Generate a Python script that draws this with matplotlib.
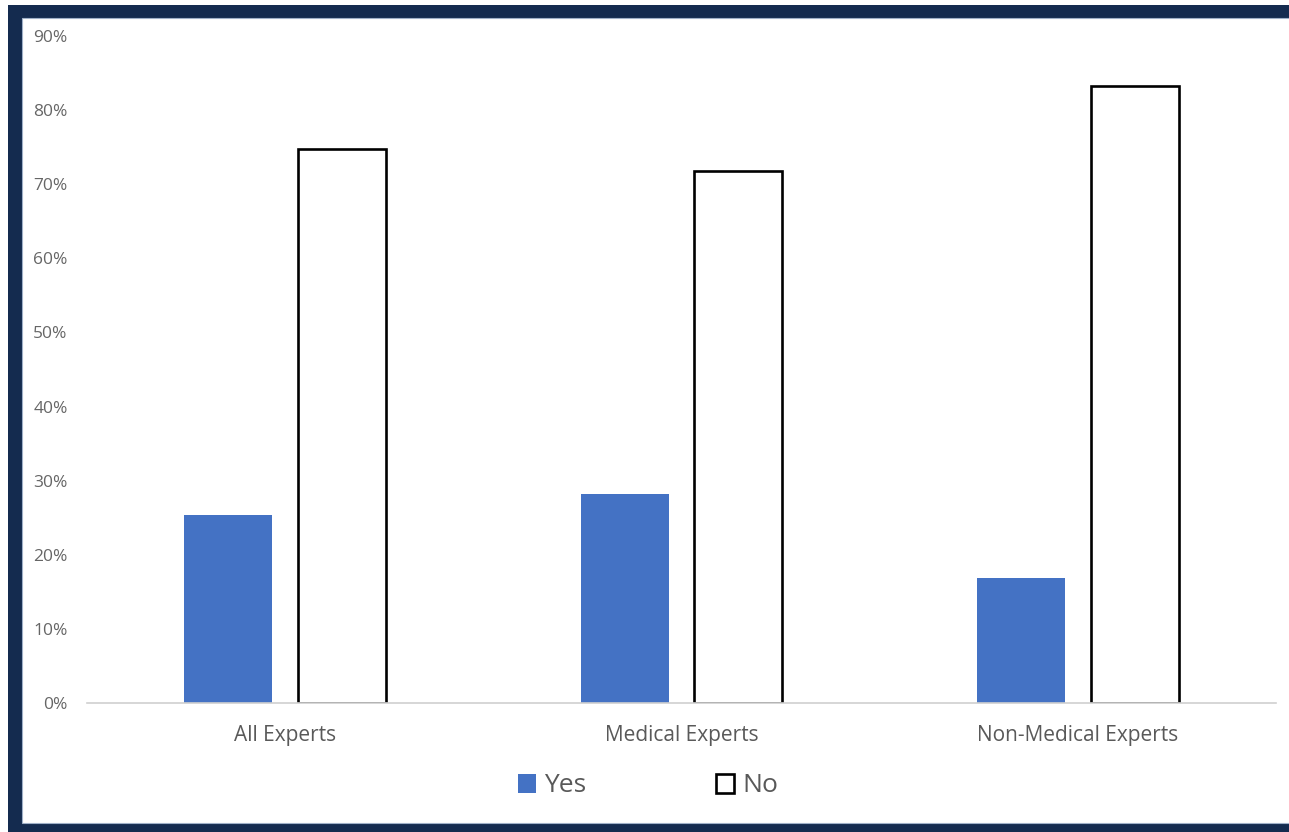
import matplotlib
matplotlib.use("Agg")
import matplotlib.pyplot as plt
from matplotlib.patches import Rectangle
from matplotlib.ticker import FuncFormatter
import numpy as np

categories = ["All Experts", "Medical Experts", "Non-Medical Experts"]
yes_values = [25.3, 28.2, 16.8]
no_values = [74.7, 71.8, 83.2]
series_labels = ["Yes", "No"]
yticks = [0, 10, 20, 30, 40, 50, 60, 70, 80, 90]

W, H = 1289, 832
fig = plt.figure(figsize=(W / 100, H / 100), dpi=100)
plt.rcParams['font.family'] = ['Open Sans', 'DejaVu Sans']

navy = "#142b4f"
# frame
fig.patches.append(Rectangle((8 / W, 0), 1.0, 1 - 5 / H, transform=fig.transFigure,
                             facecolor=navy, edgecolor='none', zorder=-10))
fig.patches.append(Rectangle((22 / W, 9 / H), 1.0, 1 - 18 / H - 9 / H, transform=fig.transFigure,
                             facecolor='white', edgecolor='#9fb0c8', linewidth=0.8, zorder=-9))

left, right = 87 / W, 1276 / W
bottom, top = 1 - 703 / H, 1 - 36 / H
ax = fig.add_axes([left, bottom, right - left, top - bottom])
ax.set_facecolor('none')

x = np.arange(len(categories))
bw = 0.222
off = 0.143
ax.bar(x - off, yes_values, width=bw, color="#4472c4", label=series_labels[0], zorder=2)
ax.bar(x + off, no_values, width=bw, facecolor="white", edgecolor="black", linewidth=1.9,
       label=series_labels[1], zorder=2)

ax.set_xlim(-0.5, 2.5)
ax.set_ylim(0, 90)
ax.set_yticks(yticks)
ax.yaxis.set_major_formatter(FuncFormatter(lambda v, p: f"{int(v)}%"))
ax.set_xticks(x)
ax.set_xticklabels(categories)
for s in ["top", "right", "left"]:
    ax.spines[s].set_visible(False)
ax.spines["bottom"].set_color("#d0d0d0")
ax.spines["bottom"].set_linewidth(1.2)
ax.tick_params(axis='y', length=0, labelsize=12.5, labelcolor="#666666", pad=14)
ax.tick_params(axis='x', length=0, labelsize=15, labelcolor="#595959", pad=16)

leg = fig.legend(loc='center', bbox_to_anchor=(0.5025, 1 - 786 / H), ncol=2, frameon=False,
                 fontsize=19, handlelength=0.7, handleheight=0.7, handletextpad=0.3,
                 columnspacing=4.9)
for t in leg.get_texts():
    t.set_color("#595959")

fig.savefig("out.png", dpi=100)
